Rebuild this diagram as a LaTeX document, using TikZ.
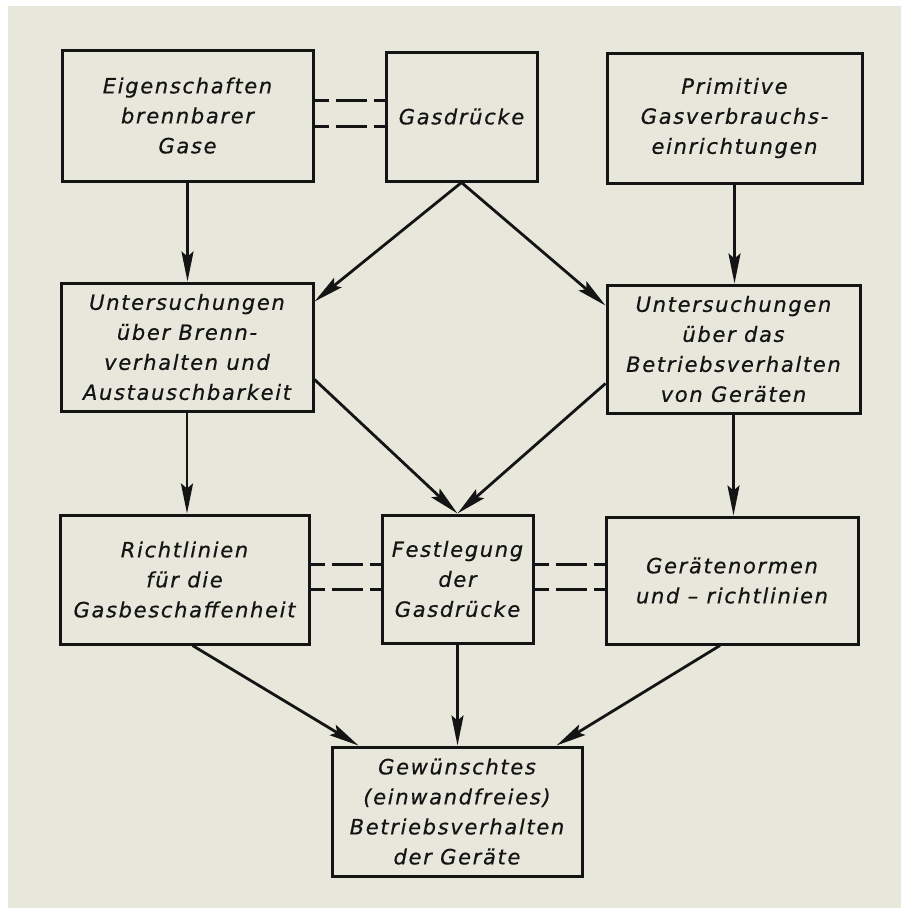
\documentclass[tikz,border=0pt]{standalone}
\usepackage{fontspec}
\setmainfont{DejaVu Sans}[LetterSpace=8, FakeBold=0.6]
\usetikzlibrary{arrows.meta,calc}
\definecolor{paper}{RGB}{232,231,219}
\definecolor{ink}{RGB}{20,20,20}
\begin{document}
\begin{tikzpicture}[x=1pt,y=-1pt,
  box/.style={draw=ink, line width=3pt, rectangle, align=center, inner sep=0pt,
    font=\fontsize{21}{30}\selectfont\itshape, text=ink},
  flow/.style={draw=ink, line width=2.8pt, -{Stealth[length=30pt,width=12pt,inset=5pt]}},
  link/.style={draw=ink, line width=2.6pt, dash pattern=on 14pt off 7pt on 31pt off 7pt on 20pt off 40pt}]
\fill[white] (0,0) rectangle (901,908);
\fill[paper] (8,6) rectangle (901,908);
\useasboundingbox (0,0) rectangle (901,908);

\node[box, minimum width=251pt, minimum height=131pt] (eig) at (187.5,115.5) {Eigenschaften\\brennbarer\\Gase};
\node[box, minimum width=151pt, minimum height=129pt] (gas) at (461.5,116.5) {Gasdrücke};
\node[box, minimum width=255pt, minimum height=130pt] (prim) at (734.5,118) {Primitive\\Gasverbrauchs-\\einrichtungen};
\node[box, minimum width=252pt, minimum height=128pt] (unl) at (187,347) {Untersuchungen\\über Brenn-\\verhalten und\\Austauschbarkeit};
\node[box, minimum width=253pt, minimum height=128pt] (unr) at (733.5,349) {Untersuchungen\\über das\\Betriebsverhalten\\von Geräten};
\node[box, minimum width=249pt, minimum height=129pt] (ric) at (184.5,579.5) {Richtlinien\\für die\\Gasbeschaffenheit};
\node[box, minimum width=151pt, minimum height=128pt] (fest) at (457.5,579) {Festlegung\\der\\Gasdrücke};
\node[box, minimum width=252pt, minimum height=127pt] (ger) at (732,580.5) {Gerätenormen\\und -- richtlinien};
\node[box, minimum width=250pt, minimum height=129pt] (gew) at (457,811.5) {Gewünschtes\\(einwandfreies)\\Betriebsverhalten\\der Geräte};

% dashed links
\coordinate (d1) at ($(eig.north east)+(0,52)$);
\coordinate (d2) at ($(eig.north east)+(0,78)$);
\draw[link] (d1) -- (d1 -| gas.west);
\draw[link] (d2) -- (d2 -| gas.west);
\coordinate (d3) at ($(ric.north east)+(0,51)$);
\coordinate (d4) at ($(ric.north east)+(0,76)$);
\draw[link] (d3) -- (d3 -| fest.west);
\draw[link] (d4) -- (d4 -| fest.west);
\coordinate (d5) at ($(fest.north east)+(0,51)$);
\coordinate (d6) at ($(fest.north east)+(0,76)$);
\draw[link] (d5) -- (d5 -| ger.west);
\draw[link] (d6) -- (d6 -| ger.west);

% arrows
\draw[flow] (eig.south) -- (eig.south |- unl.north);
\draw[flow] (gas.south) -- ($(unl.north east)+(0,20)$);
\draw[flow] (gas.south) -- ($(unr.north west)+(0,22)$);
\draw[flow] (prim.south) -- (prim.south |- unr.north);
\draw[flow] (unl.south) -- (unl.south |- ric.north);
\draw[flow] ($(unl.south east)+(0,-33)$) -- (fest.north);
\draw[flow] ($(unr.south west)+(0,-31)$) -- (fest.north);
\draw[flow] (unr.south) -- (unr.south |- ger.north);
\draw[flow] ($(ric.south)+(8,0)$) -- ($(gew.north west)+(28,0)$);
\draw[flow] (fest.south) -- (fest.south |- gew.north);
\draw[flow] ($(ger.south)+(-12,0)$) -- ($(gew.north east)+(-27,0)$);
\end{tikzpicture}
\end{document}
